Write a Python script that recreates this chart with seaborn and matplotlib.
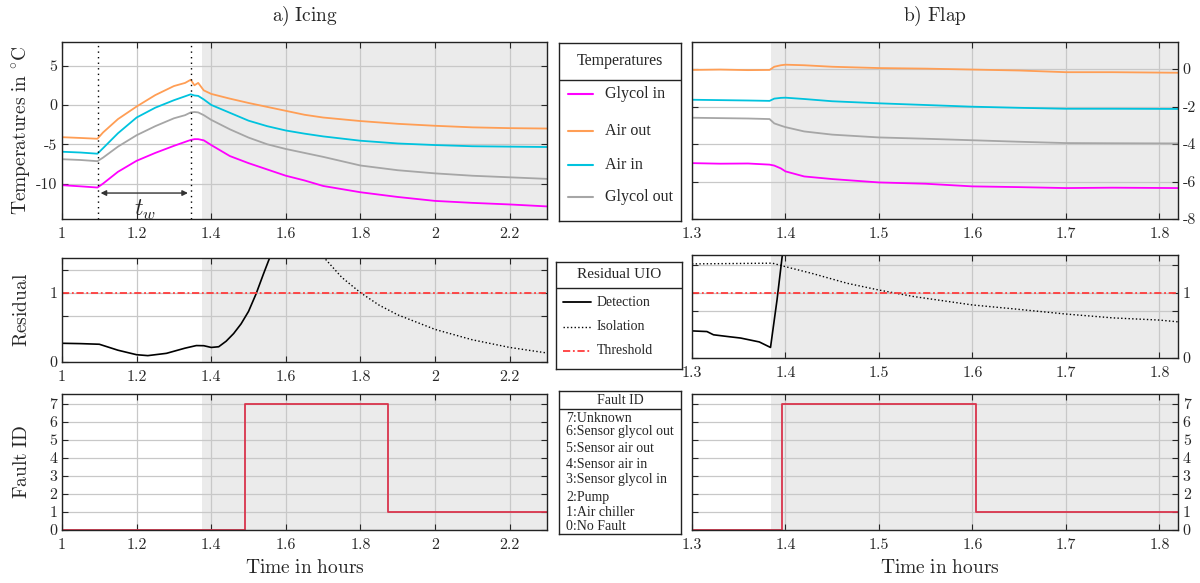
import numpy as np
import pandas as pd
import matplotlib
matplotlib.use('Agg')
import matplotlib.pyplot as plt
import seaborn as sns
from matplotlib.ticker import FixedLocator

sns.set_style('white')
plt.rcParams['font.family'] = ['DejaVu Serif']
plt.rcParams['mathtext.fontset'] = 'cm'
plt.rcParams['axes.unicode_minus'] = False

W, H = 1200, 583

# --- temperatures, icing test ---
icing_t = [1.00, 1.05, 1.095, 1.11, 1.15, 1.20, 1.25, 1.30, 1.33, 1.345, 1.355, 1.365,
           1.38, 1.40, 1.45, 1.50, 1.55, 1.60, 1.65, 1.70, 1.80, 1.90, 2.00, 2.10, 2.20, 2.30]
icing_glycol_in = [-10.2, -10.35, -10.5, -10.0, -8.5, -7.1, -6.1, -5.2, -4.7, -4.45, -4.35, -4.35,
                   -4.5, -5.1, -6.5, -7.4, -8.2, -9.0, -9.6, -10.3, -11.1, -11.7, -12.2, -12.45, -12.65, -12.9]
icing_air_out = [-4.1, -4.2, -4.3, -3.5, -1.8, -0.2, 1.25, 2.4, 2.8, 3.2, 2.5, 2.8,
                 1.85, 1.4, 0.8, 0.25, -0.25, -0.75, -1.25, -1.6, -2.05, -2.4, -2.65, -2.85, -2.95, -3.0]
icing_air_in = [-5.95, -6.05, -6.2, -5.5, -3.6, -1.6, -0.35, 0.6, 1.1, 1.35, 1.2, 1.15,
                0.7, 0.0, -1.0, -2.0, -2.7, -3.25, -3.65, -4.0, -4.55, -4.9, -5.1, -5.25, -5.3, -5.35]
icing_glycol_out = [-6.9, -7.0, -7.15, -6.7, -5.3, -3.85, -2.7, -1.7, -1.3, -0.95, -0.9, -0.95,
                    -1.3, -1.9, -3.1, -4.15, -5.0, -5.6, -6.1, -6.6, -7.7, -8.3, -8.7, -9.0, -9.2, -9.4]

# --- temperatures, flap test ---
flap_t = [1.30, 1.33, 1.36, 1.383, 1.388, 1.395, 1.40, 1.42, 1.45, 1.50, 1.55, 1.60, 1.65, 1.70, 1.75, 1.82]
flap_glycol_in = [-5.02, -5.05, -5.04, -5.1, -5.15, -5.3, -5.46, -5.73, -5.87, -6.05, -6.12, -6.26, -6.3, -6.35, -6.33, -6.35]
flap_air_out = [-0.05, -0.03, -0.06, -0.05, 0.12, 0.2, 0.23, 0.2, 0.12, 0.05, 0.02, -0.03, -0.08, -0.17, -0.17, -0.2]
flap_air_in = [-1.64, -1.66, -1.68, -1.70, -1.58, -1.54, -1.53, -1.6, -1.72, -1.83, -1.92, -2.01, -2.07, -2.12, -2.12, -2.13]
flap_glycol_out = [-2.6, -2.62, -2.64, -2.67, -2.9, -3.02, -3.1, -3.33, -3.5, -3.65, -3.72, -3.8, -3.88, -3.95, -3.96, -3.97]

# --- residuals ---
icing_det_t = [1.00, 1.05, 1.10, 1.15, 1.20, 1.23, 1.28, 1.33, 1.36, 1.38, 1.40, 1.42, 1.44,
               1.46, 1.48, 1.50, 1.52, 1.54, 1.56]
icing_det = [0.27, 0.265, 0.256, 0.17, 0.105, 0.092, 0.125, 0.2, 0.237, 0.235, 0.21, 0.22, 0.30,
             0.41, 0.55, 0.73, 0.98, 1.27, 1.55]
icing_iso_t = [1.70, 1.75, 1.80, 1.85, 1.90, 2.00, 2.10, 2.20, 2.30]
icing_iso = [1.52, 1.22, 1.0, 0.82, 0.68, 0.47, 0.32, 0.21, 0.13]

flap_det_t = [1.300, 1.316, 1.323, 1.340, 1.352, 1.362, 1.372, 1.384, 1.391, 1.397]
flap_det = [0.41, 0.40, 0.35, 0.32, 0.30, 0.27, 0.24, 0.155, 0.89, 1.62]
flap_iso_t = [1.30, 1.386, 1.40, 1.43, 1.466, 1.50, 1.537, 1.60, 1.644, 1.70, 1.751, 1.80, 1.82]
flap_iso = [1.443, 1.454, 1.40, 1.29, 1.144, 1.04, 0.94, 0.81, 0.75, 0.67, 0.61, 0.577, 0.55]

threshold = 1.0

# --- fault id ---
icing_fault_t = [1.0, 1.49, 1.873, 2.3]
icing_fault_id = [0, 7, 1, 1]
flap_fault_t = [1.3, 1.396, 1.604, 1.82]
flap_fault_id = [0, 7, 1, 1]

icing_fault_start = 1.375
flap_fault_start = 1.385
window_marks = [1.096, 1.345]

sensors = ['Glycol in', 'Air out', 'Air in', 'Glycol out']
temp_colors = {'Glycol in': '#FF00FF', 'Air out': '#FF9E55', 'Air in': '#00C3DE', 'Glycol out': '#A6A6A6'}
fault_labels = ['7:Unknown', '6:Sensor glycol out', '5:Sensor air out', '4:Sensor air in',
                '3:Sensor glycol in', '2:Pump', '1:Air chiller', '0:No Fault']
fault_color = '#D9344C'
thr_color = '#FF3C3C'
legend_font = 'Liberation Serif'

fig = plt.figure(figsize=(12, 5.83), dpi=100)


def px_axes(x0, y0, x1, y1):
    return fig.add_axes([x0 / W, 1 - y1 / H, (x1 - x0) / W, (y1 - y0) / H])


def style_axes(ax, xlim, xticks, ylim, yticks, ylabels, shade_from, right=False):
    ax.axvspan(shade_from, xlim[1], color='#EBEBEB', lw=0, zorder=0)
    ax.set_xlim(xlim)
    ax.set_ylim(ylim)
    ax.xaxis.set_major_locator(FixedLocator(xticks))
    ax.set_xticklabels(['%g' % v for v in xticks])
    ax.set_yticks(yticks)
    ax.set_yticklabels(ylabels)
    ax.tick_params(direction='in', length=4, width=0.8, top=True, right=True, left=True, bottom=True,
                   labelsize=11.5, labelleft=not right, labelright=right, labelfontfamily='cmr10')
    ax.tick_params(axis='x', pad=6)
    ax.grid(True, color='#C8C8C8', linewidth=0.9)
    ax.set_axisbelow(True)
    for s in ax.spines.values():
        s.set_color('#222222')
        s.set_linewidth(1.0)
    ax.set_xlabel('')
    ax.set_ylabel('')


def temp_frame(t, gin, aout, ain, gout):
    df = pd.DataFrame({'t': t, 'Glycol in': gin, 'Air out': aout, 'Air in': ain, 'Glycol out': gout})
    return df.melt('t', var_name='sensor', value_name='temp')


# ---------- top row: temperatures ----------
ax = px_axes(62, 42, 547, 219)
df = temp_frame(icing_t, icing_glycol_in, icing_air_out, icing_air_in, icing_glycol_out)
sns.lineplot(data=df, x='t', y='temp', hue='sensor', hue_order=sensors, palette=temp_colors,
             legend=False, lw=1.3, ax=ax)
for m in window_marks:
    ax.axvline(m, color='black', ls=(0, (1, 3)), lw=1.0)
ax.annotate('', xy=(window_marks[0], -11.2), xytext=(window_marks[1], -11.2),
            arrowprops=dict(arrowstyle='<|-|>', color='#333333', lw=1.0, mutation_scale=8))
ax.text(1.222, -13.4, r'$t_w$', fontsize=17, ha='center', va='center')
style_axes(ax, (1, 2.3), [1, 1.2, 1.4, 1.6, 1.8, 2, 2.2], (-14.5, 8), [-10, -5, 0, 5],
           ['-10', '-5', '0', '5'], icing_fault_start)

ax = px_axes(692, 42, 1178, 219)
df = temp_frame(flap_t, flap_glycol_in, flap_air_out, flap_air_in, flap_glycol_out)
sns.lineplot(data=df, x='t', y='temp', hue='sensor', hue_order=sensors, palette=temp_colors,
             legend=False, lw=1.3, ax=ax)
style_axes(ax, (1.3, 1.82), [1.3, 1.4, 1.5, 1.6, 1.7, 1.8], (-8, 1.44), [-8, -6, -4, -2, 0],
           ['-8', '-6', '-4', '-2', '0'], flap_fault_start, right=True)

# ---------- middle row: residuals ----------
ax = px_axes(62, 258, 547, 362)
sns.lineplot(x=icing_det_t, y=icing_det, color='black', lw=1.2, ax=ax)
sns.lineplot(x=icing_iso_t, y=icing_iso, color='black', lw=1.0, linestyle=':', ax=ax)
sns.lineplot(x=[1.0, 2.3], y=[threshold, threshold], color=thr_color, lw=1.3,
             linestyle=(0, (4, 1.5, 1, 1.5)), ax=ax)
style_axes(ax, (1, 2.3), [1, 1.2, 1.4, 1.6, 1.8, 2, 2.2], (0, 1.5), [0, 2 / 3, 1, 4 / 3],
           ['0', '', '1', ''], icing_fault_start)

ax = px_axes(692, 255, 1178, 357.5)
sns.lineplot(x=flap_det_t, y=flap_det, color='black', lw=1.2, ax=ax)
sns.lineplot(x=flap_iso_t, y=flap_iso, color='black', lw=1.0, linestyle=':', ax=ax)
sns.lineplot(x=[1.3, 1.82], y=[threshold, threshold], color=thr_color, lw=1.3,
             linestyle=(0, (4, 1.5, 1, 1.5)), ax=ax)
style_axes(ax, (1.3, 1.82), [1.3, 1.4, 1.5, 1.6, 1.7, 1.8], (0, 1.58), [0, 0.71, 1, 1.42],
           ['0', '', '1', ''], flap_fault_start, right=True)

# ---------- bottom row: fault id ----------
ax = px_axes(62, 394, 547, 530)
sns.lineplot(x=icing_fault_t, y=icing_fault_id, drawstyle='steps-post', color=fault_color, lw=1.3, ax=ax)
style_axes(ax, (1, 2.3), [1, 1.2, 1.4, 1.6, 1.8, 2, 2.2], (-0.02, 7.55), list(range(8)),
           [str(i) for i in range(8)], icing_fault_start)

ax = px_axes(692, 394, 1178, 530)
sns.lineplot(x=flap_fault_t, y=flap_fault_id, drawstyle='steps-post', color=fault_color, lw=1.3, ax=ax)
style_axes(ax, (1.3, 1.82), [1.3, 1.4, 1.5, 1.6, 1.7, 1.8], (-0.02, 7.55), list(range(8)),
           [str(i) for i in range(8)], flap_fault_start, right=True)


# ---------- legend boxes ----------
def legend_box(x0, y0, x1, y1):
    bx = px_axes(x0, y0, x1, y1)
    bx.set_xlim(x0, x1)
    bx.set_ylim(y1, y0)
    bx.set_xticks([])
    bx.set_yticks([])
    for s in bx.spines.values():
        s.set_color('#222222')
        s.set_linewidth(1.0)
    return bx


bx = legend_box(559, 43, 681, 221)
bx.text(620, 61, 'Temperatures', family=legend_font, fontsize=11.5, ha='center', va='center')
bx.axhline(80, color='#222222', lw=1.0)
for name, yy in zip(sensors, [94, 131, 165, 197]):
    bx.plot([568, 593], [yy, yy], color=temp_colors[name], lw=1.5)
    bx.text(605, yy, name, family=legend_font, fontsize=11.5, va='center')

bx = legend_box(556, 262, 682, 369)
bx.text(619, 274, 'Residual UIO', family=legend_font, fontsize=11, ha='center', va='center')
bx.axhline(288, color='#222222', lw=1.0)
bx.plot([563, 591], [302, 302], color='black', lw=1.3)
bx.text(597, 302, 'Detection', family=legend_font, fontsize=10, va='center')
bx.plot([563, 591], [327, 327], color='black', lw=1.0, ls=':')
bx.text(597, 327, 'Isolation', family=legend_font, fontsize=10, va='center')
bx.plot([563, 591], [351, 351], color=thr_color, lw=1.3, ls=(0, (4, 1.5, 1, 1.5)))
bx.text(597, 351, 'Threshold', family=legend_font, fontsize=10, va='center')

bx = legend_box(559, 391, 681, 534)
bx.text(620, 400, 'Fault ID', family=legend_font, fontsize=10, ha='center', va='center')
bx.axhline(409, color='#222222', lw=1.0)
for lab, yy in zip(fault_labels, [418, 432, 448, 464, 480, 497, 513, 527]):
    bx.text(566, yy, lab, family=legend_font, fontsize=10, va='center')

# ---------- titles and axis labels ----------
fig.text(305 / W, 1 - 16 / H, r'$\mathrm{a)\ Icing}$', fontsize=14, ha='center', va='center')
fig.text(935 / W, 1 - 16 / H, r'$\mathrm{b)\ Flap}$', fontsize=14, ha='center', va='center')
fig.text(22 / W, 1 - 130 / H, r'$\mathrm{Temperatures\ in\ ^{\circ}C}$', fontsize=14,
         rotation=90, ha='center', va='center')
fig.text(22 / W, 1 - 310 / H, r'$\mathrm{Residual}$', fontsize=14, rotation=90, ha='center', va='center')
fig.text(22 / W, 1 - 462 / H, r'$\mathrm{Fault\ ID}$', fontsize=14, rotation=90, ha='center', va='center')
fig.text(305 / W, 1 - 568 / H, r'$\mathrm{Time\ in\ hours}$', fontsize=14, ha='center', va='center')
fig.text(940 / W, 1 - 568 / H, r'$\mathrm{Time\ in\ hours}$', fontsize=14, ha='center', va='center')

fig.savefig('out.png', dpi=100)
